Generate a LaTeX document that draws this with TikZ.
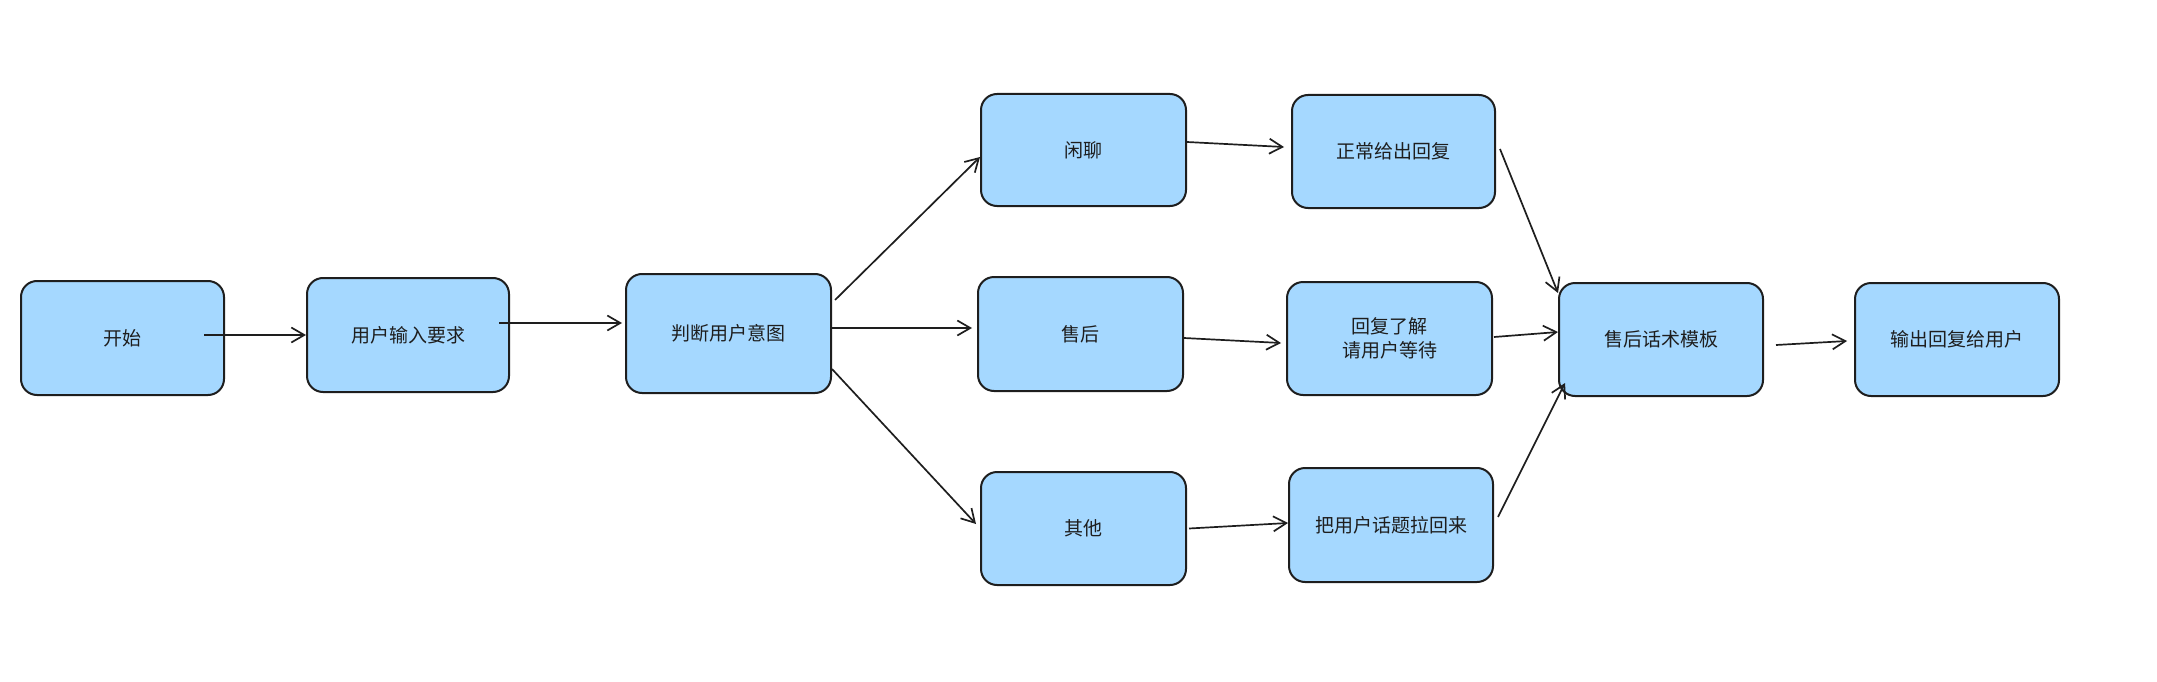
\documentclass[tikz,border=0pt]{standalone}
\usepackage{fontspec}
\setmainfont{Noto Sans CJK SC}
\usetikzlibrary{arrows.meta}
\definecolor{boxfill}{HTML}{A5D8FF}
\definecolor{ink}{HTML}{1E1E1E}
\begin{document}
\begin{tikzpicture}[x=1pt,y=-1pt,
  box/.style={draw=ink, line width=2pt, fill=boxfill, rounded corners=16pt,
    minimum width=204pt, minimum height=113pt, inner sep=0pt, align=center,
    font=\fontsize{19pt}{24pt}\selectfont, text=ink},
  conn/.style={draw=ink, line width=1.7pt, -{Straight Barb[length=13pt,width=15pt,line width=1.7pt]}}
]
\useasboundingbox (0,0) rectangle (2157,682);
\node[box, minimum width=203pt, minimum height=114pt] (start) at (122.5,338) {开始};
\node[box, minimum width=202pt, minimum height=114pt] (input) at (408,335) {用户输入要求};
\node[box, minimum width=205pt, minimum height=119pt] (judge) at (728.5,333.5) {判断用户意图};
\node[box, minimum width=205pt, minimum height=112pt] (chat) at (1083.5,150) {闲聊};
\node[box, minimum width=205pt, minimum height=114pt] (after) at (1080.5,334) {售后};
\node[box, minimum width=205pt] (other) at (1083.5,528.5) {其他};
\node[box, minimum width=203pt] (normal) at (1393.5,151.5) {正常给出回复};
\node[box, minimum width=205pt] (wait) at (1389.5,338.5) {回复了解\\请用户等待};
\node[box, minimum height=114pt] (pull) at (1391,525) {把用户话题拉回来};
\node[box] (tmpl) at (1661,339.5) {售后话术模板};
\node[box] (out) at (1957,339.5) {输出回复给用户};

\draw[conn] ([shift={(-21pt,3pt)}]start.east) -- (input.west);
\draw[conn] ([shift={(-11pt,12pt)}]input.east) -- ([shift={(-3pt,10.5pt)}]judge.west);
\draw[conn] ([shift={(3pt,33.5pt)}]judge.east) -- ([yshift=-7pt]chat.west);
\draw[conn] ([yshift=5.5pt]judge.east) -- ([shift={(-5pt,6pt)}]after.west);
\draw[conn] ([yshift=-35.5pt]judge.east) -- ([shift={(-4pt,4.5pt)}]other.west);
\draw[conn] ([yshift=8pt]chat.east) -- ([shift={(-7pt,4.5pt)}]normal.west);
\draw[conn] ([yshift=-4pt]after.east) -- ([shift={(-5pt,-4.5pt)}]wait.west);
\draw[conn] ([xshift=2pt]other.east) -- ([yshift=2pt]pull.west);
\draw[conn] ([shift={(4pt,2.5pt)}]normal.east) -- ([yshift=46.5pt]tmpl.west);
\draw[conn] ([shift={(1pt,1.5pt)}]wait.east) -- ([yshift=7.5pt]tmpl.west);
\draw[conn] ([shift={(4pt,8pt)}]pull.east) -- ([shift={(7pt,-43.5pt)}]tmpl.west);
\draw[conn] ([shift={(12pt,-5.5pt)}]tmpl.east) -- ([shift={(-7pt,-1.5pt)}]out.west);
\end{tikzpicture}
\end{document}
